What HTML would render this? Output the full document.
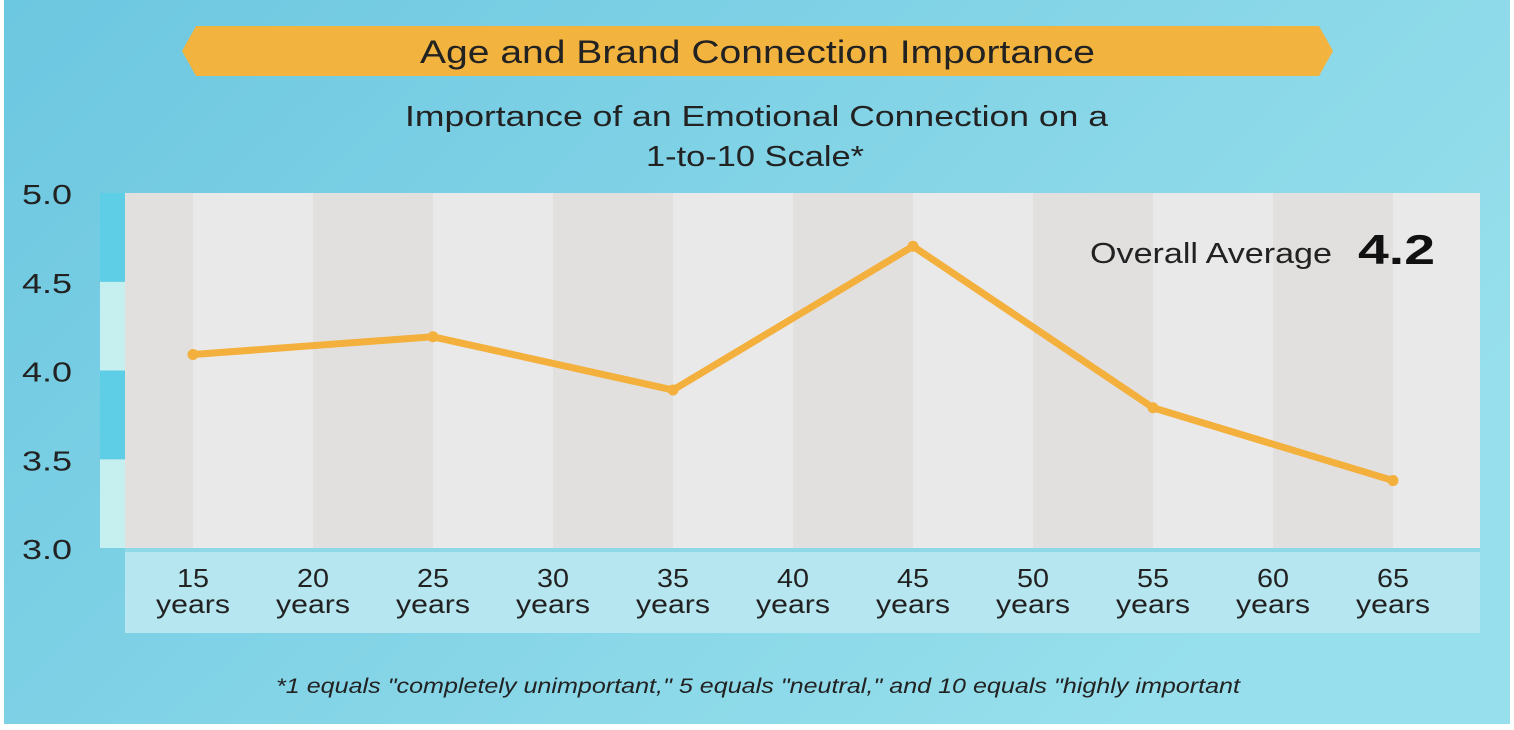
<!DOCTYPE html>
<html><head><meta charset="utf-8"><style>
html,body{margin:0;padding:0;width:1514px;height:730px;overflow:hidden;background:#fff;font-family:"Liberation Sans",sans-serif;}
</style></head><body>
<svg width="1514" height="730" xmlns="http://www.w3.org/2000/svg">
<defs><linearGradient id="bg" x1="0" y1="0" x2="1" y2="0.5">
<stop offset="0" stop-color="#6cc7e0"/><stop offset="1" stop-color="#97dfec"/></linearGradient></defs>
<rect x="4" y="0" width="1506" height="724" fill="url(#bg)"/>
<polygon points="196,26 1319,26 1333,51 1319,76 196,76 182,51" fill="#f3b43f"/>
<text x="420" y="63" textLength="675" lengthAdjust="spacingAndGlyphs" font-size="32" fill="#222">Age and Brand Connection Importance</text>
<text x="405" y="126" textLength="703" lengthAdjust="spacingAndGlyphs" font-size="29" fill="#222">Importance of an Emotional Connection on a</text>
<text x="646" y="166" textLength="218" lengthAdjust="spacingAndGlyphs" font-size="29" fill="#222">1-to-10 Scale*</text>
<g id="bands"></g>
<g id="yaxis"></g>
<rect x="125" y="548" width="1355" height="4" fill="#8fd8e8"/>
<rect x="125" y="552" width="1355" height="81" fill="#b6e7f1"/>
<g id="xaxis"></g>
<g id="series"></g>
<text x="1090" y="263" textLength="242" lengthAdjust="spacingAndGlyphs" font-size="29" fill="#222">Overall Average</text>
<text x="1358" y="264" textLength="77" lengthAdjust="spacingAndGlyphs" font-size="42" font-weight="bold" fill="#111">4.2</text>
<text x="276" y="693" textLength="964" lengthAdjust="spacingAndGlyphs" font-size="21" font-style="italic" fill="#222">*1 equals "completely unimportant," 5 equals "neutral," and 10 equals "highly important</text>
</svg>
<script>
const categories = [15,20,25,30,35,40,45,50,55,60,65];
const pointAges = [15,25,35,45,55,65];
const values = [4.09,4.19,3.89,4.70,3.79,3.38];
const yTicks = [3.0,3.5,4.0,4.5,5.0];
const NS="http://www.w3.org/2000/svg";
const X0=125,X1=1480,Y0=193,Y1=548;
function xs(a){return 193+(a-15)*24;}
function ys(v){return Y1-(v-3)*(Y1-Y0)/2;}
function mk(t,at,p){const e=document.createElementNS(NS,t);for(const k in at)e.setAttribute(k,at[k]);p.appendChild(e);return e;}
const bands=document.getElementById('bands');
mk('rect',{x:X0,y:Y0,width:X1-X0,height:Y1-Y0,fill:'#e9e9e9'},bands);
let edges=[X0];for(const c of categories)edges.push(xs(c));edges.push(X1);
for(let i=0;i<edges.length-1;i++){
 if(i%2===0){const r=mk('rect',{x:edges[i],y:Y0,width:edges[i+1]-edges[i],height:Y1-Y0,fill:'#e1e0df'},bands);
 
 }
}
const ya=document.getElementById('yaxis');
for(let i=0;i<yTicks.length-1;i++){
 const r=mk('rect',{x:100,y:ys(yTicks[i+1]),width:25,height:ys(yTicks[i])-ys(yTicks[i+1]),fill:(i%2===0)?'#c6f0f0':'#5ecde6'},ya);
 
 
}
for(const t of yTicks){
 const tx=mk('text',{x:22,y:ys(t)+11,'font-size':28,fill:'#222',textLength:50,lengthAdjust:'spacingAndGlyphs'},ya);tx.textContent=t.toFixed(1);
 
 
}
const xa=document.getElementById('xaxis');
for(const c of categories){
 const a=mk('text',{x:xs(c)-16,y:587,'font-size':26,fill:'#222',textLength:32,lengthAdjust:'spacingAndGlyphs'},xa);a.textContent=c;
 
 
 const b=mk('text',{x:xs(c)-37,y:613,'font-size':26,fill:'#222',textLength:74,lengthAdjust:'spacingAndGlyphs'},xa);b.textContent='years';
 
 
}
const s=document.getElementById('series');
const pl=mk('polyline',{points:pointAges.map((a,i)=>xs(a)+','+ys(values[i])).join(' '),fill:'none',stroke:'#f4b03c','stroke-width':7,'stroke-linejoin':'round'},s);


pointAges.forEach((a,i)=>{
 const c=mk('circle',{cx:xs(a),cy:ys(values[i]),r:5.5,fill:'#f4b03c'},s);
 
 
});
</script>
</body></html>
